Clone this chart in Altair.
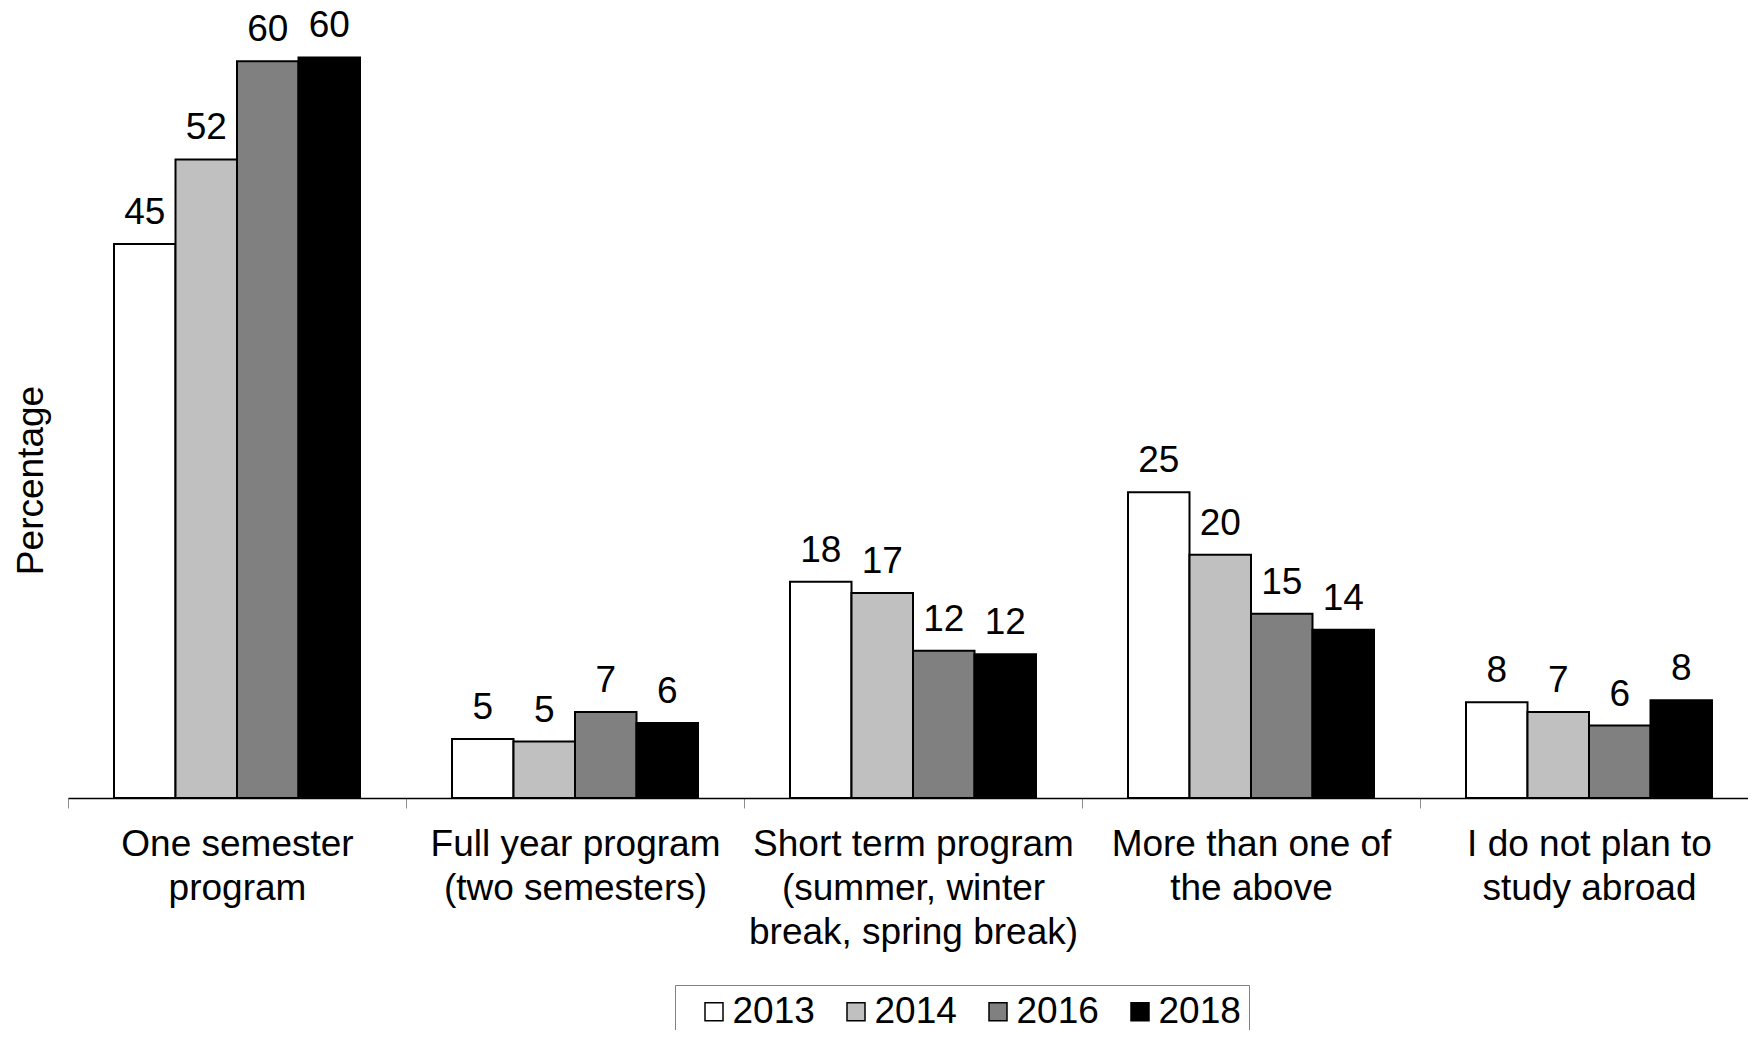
import altair as alt
import pandas as pd

categories = [
    "One semester\nprogram",
    "Full year program\n(two semesters)",
    "Short term program\n(summer, winter\nbreak, spring break)",
    "More than one of\nthe above",
    "I do not plan to\nstudy abroad",
]
years = ["2013", "2014", "2016", "2018"]
v2013 = [45.1, 4.8, 17.6, 24.9, 7.8]
v2014 = [52.0, 4.6, 16.7, 19.8, 7.0]
v2016 = [60.0, 7.0, 12.0, 15.0, 5.9]
v2018 = [60.3, 6.1, 11.7, 13.7, 7.95]
colors = ["#FFFFFF", "#C0C0C0", "#808080", "#000000"]

rows = []
for y, vals in zip(years, [v2013, v2014, v2016, v2018]):
    for c, v in zip(categories, vals):
        rows.append({"category": c, "year": y, "value": v})
df = pd.DataFrame(rows)

FONT = "Liberation Sans"

x_enc = alt.X(
    "category:N",
    sort=categories,
    scale=alt.Scale(paddingInner=0, paddingOuter=0, range=[0, 1690]),
    axis=alt.Axis(
        title=None,
        labelAngle=0,
        labelAlign="center",
        labelExpr="split(datum.label, '\\n')",
        labelFontSize=37,
        labelFont=FONT,
        labelColor="#000000",
        labelLineHeight=44,
        labelPadding=18,
        labelLimit=0,
        tickBand="extent",
        tickSize=10,
        tickColor="#8c8c8c",
        tickWidth=1,
        domainColor="#000000",
        domainWidth=1.5,
        grid=False,
    ),
)
xo_enc = alt.XOffset(
    "year:N",
    sort=years,
    scale=alt.Scale(paddingInner=0, paddingOuter=0.748),
)
y_enc = alt.Y(
    "value:Q",
    scale=alt.Scale(domain=[0, 64], nice=False, zero=True),
    axis=alt.Axis(
        title="Percentage",
        titleFont=FONT,
        titleFontSize=37,
        titleFontWeight="normal",
        titleColor="#000000",
        titleAngle=270,
        titleAlign="center",
        titleBaseline="alphabetic",
        titleX=-26,
        titleY=468,
        labels=False,
        ticks=False,
        domain=False,
        grid=False,
    ),
)

bars = alt.Chart(df).mark_bar(stroke="#000000", strokeWidth=2).encode(
    x=x_enc,
    xOffset=xo_enc,
    y=y_enc,
    fill=alt.Fill(
        "year:N",
        sort=years,
        scale=alt.Scale(domain=years, range=colors),
        legend=alt.Legend(
            title=" ",
            titleOrient="left",
            titleFontSize=37,
            titleFont=FONT,
            titlePadding=1,
            orient="none",
            direction="horizontal",
            legendX=607,
            legendY=973,
            symbolType="square",
            symbolSize=324,
            symbolStrokeColor="#000000",
            symbolStrokeWidth=1.5,
            symbolOffset=11.5,
            labelFont=FONT,
            labelFontSize=37,
            labelColor="#000000",
            labelOffset=0,
            columnPadding=11,
            padding=8,
            strokeColor="#808080",
            labelLimit=0,
        ),
    ),
)

labels = alt.Chart(df).mark_text(
    baseline="alphabetic", dy=-20, fontSize=37, font=FONT, color="#000000"
).encode(
    x=alt.X("category:N", sort=categories),
    xOffset=alt.XOffset("year:N", sort=years),
    y="value:Q",
    text=alt.Text("value:Q", format=".0f"),
)

chart = (
    alt.layer(bars, labels)
    .properties(
        width=1680,
        height=786,
        autosize=alt.AutoSizeParams(type="none"),
        padding={"left": 60, "top": 4, "right": 0, "bottom": 232},
    )
    .configure(font=FONT, background="#ffffff")
    .configure_view(strokeWidth=0)
)

chart.save("out.html", embed_options={"renderer": "svg", "actions": False})
